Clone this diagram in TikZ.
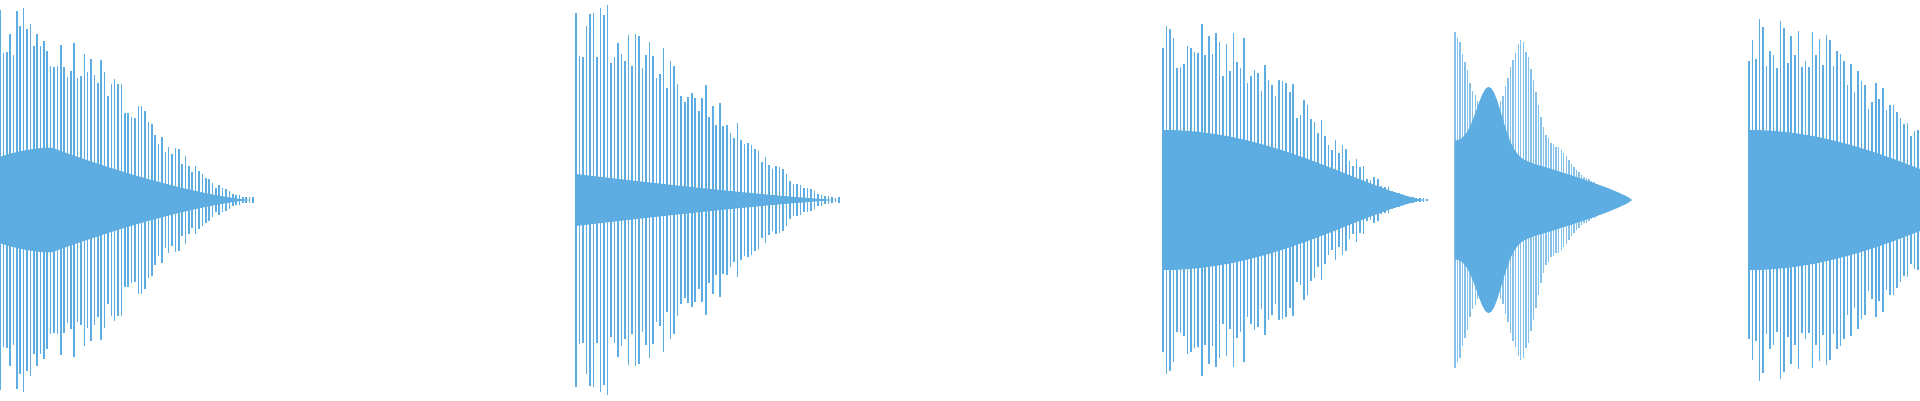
\documentclass[tikz,border=0pt]{standalone}
\definecolor{wc}{RGB}{93,173,226}
\tikzset{wl/.style={draw=wc,line width=0.45pt}}
\newcommand\wavedraw[6]{%
 \foreach \i in {0,...,#3}{
   \pgfmathsetmacro\tt{\i/#3}
   \pgfmathsetmacro\xx{#1+#2*\tt}
   \pgfmathsetmacro\hh{#4(\tt)*(1-#6+#6*rnd)}
   \draw[wl] (\xx,2-\hh) -- (\xx,2+\hh);
 }
 \fill[wc] plot[domain=0:1,samples=60] ({#1+#2*\x},{2+#5(\x)}) -- plot[domain=1:0,samples=60] ({#1+#2*\x},{2-#5(\x)}) -- cycle;
}
\begin{document}
\begin{tikzpicture}[declare function={
 oa(\t)=1.95*(1-\t^2)^2+0.03;
 ca(\t)=0.72*(1-\t)^1.4*(0.6+0.4*min(1,\t/0.2));
 ob(\t)=1.98*(1-\t^2)^2+0.03;
 cb(\t)=0.26*(1-\t)^1.2;
 oc(\t)=1.85*(1-\t^2.5)^2.5+0.02;
 cc(\t)=0.7*(1-\t^2)^1.5;
 od(\t)=1.15*(1-\t)^1.2+0.55*exp(-(\t/0.08)^2)+0.95*exp(-((\t-0.38)/0.1)^2)+0.3*(1-\t)*exp(-((\t-0.6)/0.07)^2);
 cd(\t)=0.58*(1-\t)^0.8+0.8*exp(-((\t-0.2)/0.1)^2)*(1-\t);
}]
\pgfmathsetseed{7}
\useasboundingbox (0,0) rectangle (19.2,4);
\clip (0,0) rectangle (19.2,4);
\wavedraw{0}{2.53}{75}{oa}{ca}{0.3}
\wavedraw{5.76}{2.63}{75}{ob}{cb}{0.3}
\wavedraw{11.63}{2.64}{75}{oc}{cc}{0.3}
\begin{scope}[wl/.style={draw=wc!75,line width=0.4pt}]
\wavedraw{14.55}{1.77}{70}{od}{cd}{0.04}
\end{scope}
\wavedraw{17.49}{2.64}{75}{oc}{cc}{0.3}
\end{tikzpicture}
\end{document}
